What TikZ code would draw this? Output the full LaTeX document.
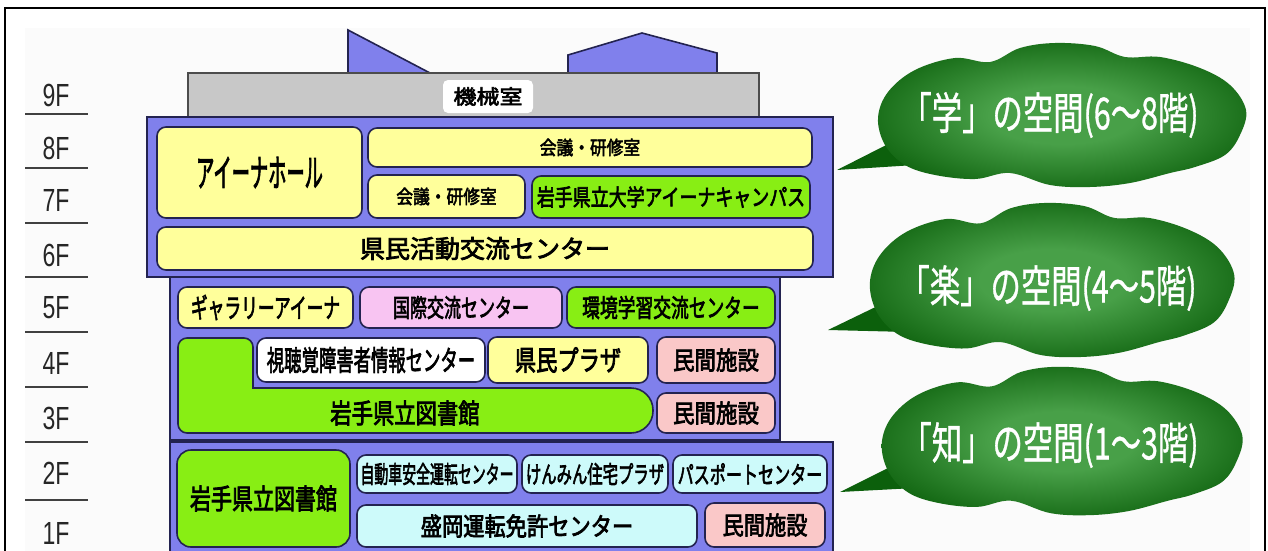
\documentclass[tikz,border=0pt]{standalone}
\usepackage{fontspec}
\usepackage{graphicx}
\newfontfamily\jp{Noto Sans CJK JP}[FakeBold=3]
\newfontfamily\jpr{Noto Sans CJK JP}[FakeBold=1]
\newfontfamily\lat{Liberation Sans}
\definecolor{wall}{RGB}{128,128,236}
\definecolor{edge}{RGB}{35,35,80}
\definecolor{cream}{RGB}{255,255,155}
\definecolor{lime}{RGB}{136,238,20}
\definecolor{lilac}{RGB}{248,196,242}
\definecolor{salmon}{RGB}{250,200,200}
\definecolor{aqua}{RGB}{205,250,250}
\definecolor{roofgray}{RGB}{200,200,200}
\definecolor{cloudout}{RGB}{12,96,12}
\definecolor{cloudin}{RGB}{72,160,72}
\pgfdeclareradialshading{cloudshade}{\pgfpoint{0bp}{0bp}}{color(0bp)=(cloudin); color(10bp)=(cloudin); color(30bp)=(cloudout); color(50bp)=(cloudout)}
\newcommand{\narrow}[2]{\scalebox{#1}[1]{#2}}
\newcommand{\jpsize}[1]{\jp\fontsize{#1}{#1}\selectfont}
\tikzset{
	room/.style={draw=edge, line width=1.6pt, rounded corners=9pt, inner sep=0pt},
	block/.style={draw=edge, line width=1.6pt, fill=wall},
	floorlbl/.style={text=black!85, font=\lat\fontsize{32}{32}\selectfont},
	bubble/.style={shading=cloudshade},
	bubbletext/.style={text=white, font=\jpr\fontsize{44}{44}\selectfont},
	tail/.style={fill=cloudout}
}
\begin{document}
\begin{tikzpicture}[x=1pt, y=-1pt]
	\useasboundingbox (0, 0) rectangle (1268, 551);
	\fill[white] (0, 0) rectangle (1268, 551);
	\fill[black!1.5] (25, 28) rectangle (1250, 551);
	\draw[line width=1.5pt] (5, 600) -- (5, 8) -- (1265, 8) -- (1265, 600);

	\foreach \f/\y in {9/95, 8/148, 7/200, 6/255, 5/308, 4/363, 3/418, 2/473, 1/533}
		\node (f\f)at (56, \y)[floorlbl] {\narrow{0.72}{\f F}};
	\foreach \y in {114, 168, 223, 277, 332, 387, 442, 500}
		\draw[line width=1.6pt, black!75] (25, \y) -- (88, \y);

	\draw[block] (348, 73) -- (348, 30) -- (430, 73) -- cycle;
	\draw[block] (568, 73) -- (568, 55) -- (642, 33) -- (717, 53) -- (717, 73) -- cycle;
	\draw[line width=1.3pt, draw=black!70, fill=roofgray] (188, 73) rectangle (759, 117);
	\node (kikai)at (488, 96.5)[room, draw=none, fill=white, rounded corners=5pt, minimum width=90, minimum height=33, font=\jpsize{20}] {\narrow{1.15}{機械室}};

	\draw[block] (170, 277) rectangle (780, 440);
	\draw[block] (170, 442) rectangle (833, 570);
	\draw[block] (147, 117) rectangle (833, 277);

	\node (hall)at (259.5, 172.5)[room, fill=cream, minimum width=205, minimum height=91, font=\jpsize{38}] {\narrow{0.48}{アイーナホール}};
	\node (kaigiA)at (590, 147.5)[room, fill=cream, minimum width=444, minimum height=39, font=\jpsize{19}] {\narrow{0.88}{会議・研修室}};
	\node (kaigiB)at (446.5, 196.5)[room, fill=cream, minimum width=157, minimum height=43, font=\jpsize{19}] {\narrow{0.88}{会議・研修室}};
	\node (campus)at (671, 197)[room, fill=lime, minimum width=278, minimum height=42, font=\jpsize{23}] {\narrow{0.78}{岩手県立大学アイーナキャンパス}};
	\node (katsudo)at (485, 248.5)[room, fill=cream, minimum width=656, minimum height=43, font=\jpsize{25}] {\narrow{1}{県民活動交流センター}};

	\node (gallery)at (265.5, 307.5)[room, fill=cream, minimum width=175, minimum height=41, font=\jpsize{27}] {\narrow{0.62}{ギャラリーアイーナ}};
	\node (kokusai)at (461, 307.5)[room, fill=lilac, minimum width=202, minimum height=41, font=\jpsize{25}] {\narrow{0.68}{国際交流センター}};
	\node (kankyo)at (671, 307.5)[room, fill=lime, minimum width=208, minimum height=41, font=\jpsize{25}] {\narrow{0.71}{環境学習交流センター}};
	\draw[room, fill=lime] (178, 433) -- (178, 338) -- (253, 338) [sharp corners] -- (253, 388) [rounded corners=9pt] -- (620, 388) [rounded corners=22pt] -- (653, 388) -- (653, 433) [rounded corners=9pt] -- (620, 433) -- cycle;
	\node (lib3)at (405, 413)[font=\jpsize{27}] {\narrow{0.79}{岩手県立図書館}};
	\node (shicho)at (371, 360)[room, fill=white, minimum width=228, minimum height=44, font=\jpsize{28}] {\narrow{0.62}{視聴覚障害者情報センター}};
	\node (plaza)at (568, 360)[room, fill=cream, minimum width=160, minimum height=46, font=\jpsize{28}] {\narrow{0.76}{県民プラザ}};
	\node (minkan4)at (716, 360)[room, fill=salmon, minimum width=118, minimum height=46, font=\jpsize{25}] {\narrow{0.86}{民間施設}};
	\node (minkan3)at (716, 413)[room, fill=salmon, minimum width=118, minimum height=40, font=\jpsize{25}] {\narrow{0.86}{民間施設}};

	\node (lib1)at (263.5, 498.5)[room, fill=lime, rounded corners=14pt, minimum width=173, minimum height=97, font=\jpsize{28}] {\narrow{0.75}{岩手県立図書館}};
	\node (jidosha)at (437, 474)[room, fill=aqua, minimum width=160, minimum height=38, font=\jpsize{24}] {\narrow{0.58}{自動車安全運転センター}};
	\node (jutaku)at (595, 474)[room, fill=aqua, minimum width=146, minimum height=38, font=\jpsize{24}] {\narrow{0.64}{けんみん住宅プラザ}};
	\node (passport)at (750, 474)[room, fill=aqua, minimum width=154, minimum height=38, font=\jpsize{24}] {\narrow{0.67}{パスポートセンター}};
	\node (menkyo)at (527, 526)[room, fill=aqua, minimum width=340, minimum height=42, font=\jpsize{25}] {\narrow{0.85}{盛岡運転免許センター}};
	\node (minkan1)at (765, 525)[room, fill=salmon, minimum width=120, minimum height=44, font=\jpsize{25}] {\narrow{0.85}{民間施設}};

	\coordinate (gakutip)at (837, 170);
	\coordinate (rakutip)at (828, 330);
	\coordinate (chitip)at (840, 492);
	\fill[tail] (gakutip) -- (900, 138) -- (915, 165) -- cycle;
	\fill[tail] (rakutip) -- (890, 300) -- (908, 332) -- cycle;
	\fill[tail] (chitip) -- (900, 462) -- (915, 488) -- cycle;
	\foreach \cx/\cy/\sx/\sy in {1063/115/1/1, 1053/280/0.99/1.07, 1063/441/0.98/1.03}
		\shade[bubble, shift={(\cx, \cy)}, xscale=\sx, yscale=\sy] plot[smooth cycle, tension=0.6] coordinates {(-185, 3) (-175, -23) (-148, -45) (-108, -57) (-73, -53) (-43, -67) (-8, -72) (32, -69) (62, -58) (97, -58) (137, -47) (167, -30) (183, -5) (177, 20) (162, 40) (132, 52) (107, 58) (67, 68) (27, 72) (-13, 70) (-53, 58) (-88, 64) (-128, 60) (-158, 50) (-178, 30)};
	\node (gakut)at (1050, 115)[bubbletext] {\narrow{0.69}{「学」の空間(6～8階)}};
	\node (rakut)at (1048, 288)[bubbletext] {\narrow{0.69}{「楽」の空間(4～5階)}};
	\node (chit)at (1050, 445)[bubbletext] {\narrow{0.69}{「知」の空間(1～3階)}};
\end{tikzpicture}
\end{document}
